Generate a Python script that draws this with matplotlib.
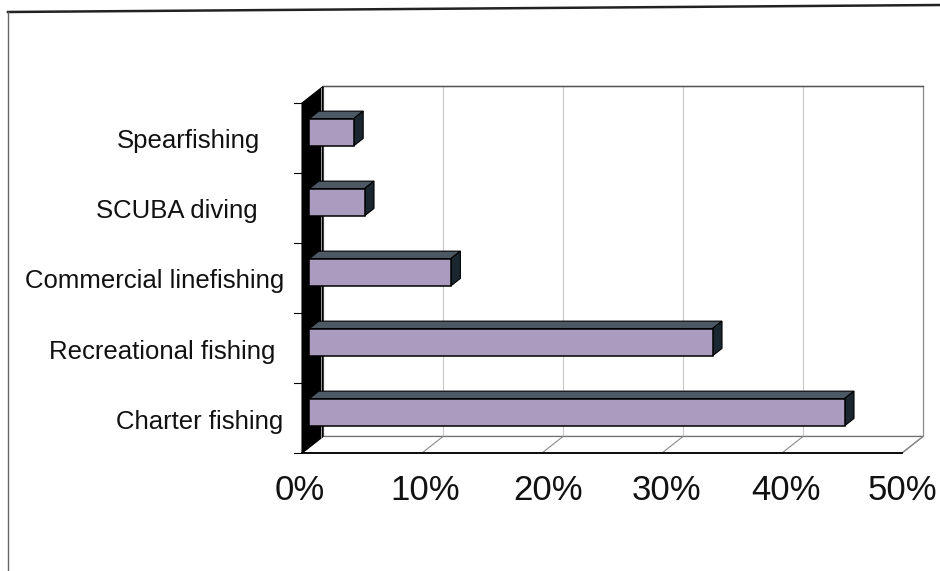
import numpy as np
import matplotlib
matplotlib.use('Agg')
import matplotlib.pyplot as plt
from matplotlib.patches import Polygon

# data (bottom to top)
categories = ['Charter fishing', 'Recreational fishing', 'Commercial linefishing',
              'SCUBA diving', 'Spearfishing']
values = [44.6, 33.6, 11.8, 4.6, 3.7]
xticks = [0, 10, 20, 30, 40, 50]
xticklabels = ['0%', '10%', '20%', '30%', '40%', '50%']

# layout: right edge of each category label (in % units, front plane)
label_right = [-1.6, -2.2, -1.45, -3.7, -3.5]
# layout: small shifts of the % labels (in % units)
tick_shift = [-0.2, 0.25, 0.5, 0.4, 0.3, 0.0]

# 3D look: depth offsets for z = 1 (back plane)
DX = 1.75    # in %
DY = 0.236   # in category units
Z0, Z1 = 0.35, 0.80   # bar depth range
BH = 0.39             # bar height

front_col = '#a99cbf'
top_col = '#4d5865'
side_col = '#1b2730'


def proj(x, y, z):
    return (x + DX * z, y + DY * z)


def face(ax, pts, fc, ec='black', lw=0.8, zorder=3):
    ax.add_patch(Polygon([proj(*p) for p in pts], closed=True, facecolor=fc,
                         edgecolor=ec, linewidth=lw, zorder=zorder))


fig = plt.figure(figsize=(9.4, 5.71), dpi=100)
ax = fig.add_axes([0, 0, 1, 1])
ax.set_xlim(-302 / 12, (940 - 302) / 12)
ax.set_ylim((453 - 571) / 70, 453 / 70)
ax.axis('off')

n = len(categories)
xmax = xticks[-1]

# back wall
face(ax, [(0, 0, 1), (xmax, 0, 1), (xmax, n, 1), (0, n, 1)], 'white',
     ec='#8a8a8a', lw=0.9, zorder=1)
for t in xticks[1:-1]:
    ax.plot(*zip(proj(t, 0, 1), proj(t, n, 1)), color='#c8c8c8', lw=0.8, zorder=1)
ax.plot(*zip(proj(0, n, 1), proj(xmax, n, 1)), color='#555555', lw=1.0, zorder=1)

# floor
face(ax, [(0, 0, 0), (xmax, 0, 0), (xmax, 0, 1), (0, 0, 1)], 'white',
     ec='#707070', lw=0.9, zorder=1)
for t in xticks[1:]:
    ax.plot(*zip(proj(t, 0, 0), proj(t, 0, 1)), color='#8a8a8a', lw=0.8, zorder=1)
ax.plot(*zip(proj(0, 0, 0), proj(xmax, 0, 0)), color='black', lw=1.3, zorder=1)

# left side wall (black)
face(ax, [(0, 0, 0), (0, 0, 1), (0, n, 1), (0, n, 0)], 'black', lw=0.8, zorder=2)
ax.plot(*zip(proj(-0.05, 0, 0.93), proj(-0.05, n, 0.93)), color='#9a9a9a', lw=0.7, zorder=2)

# category ticks on the front edge
for k in range(n + 1):
    x0, y0 = proj(0, k, 0)
    ax.plot([x0 - 0.65, x0], [y0, y0], color='black', lw=0.8, zorder=2)

# bars
for i, v in enumerate(values):
    y0 = i + 0.5 - BH / 2
    y1 = i + 0.5 + BH / 2
    face(ax, [(0, y1, Z0), (v, y1, Z0), (v, y1, Z1), (0, y1, Z1)], top_col)
    face(ax, [(v, y0, Z0), (v, y1, Z0), (v, y1, Z1), (v, y0, Z1)], side_col)
    face(ax, [(0, y0, Z0), (v, y0, Z0), (v, y1, Z0), (0, y1, Z0)], front_col, lw=1.1)

# category labels
for i, (c, xr) in enumerate(zip(categories, label_right)):
    ax.text(xr, i + 0.45, c, ha='right', va='center', fontsize=18.5,
            family='Liberation Sans', color='#111111')

# x tick labels
for t, lab, s in zip(xticks, xticklabels, tick_shift):
    ax.text(t + s, -0.53, lab, ha='center', va='center',
            fontsize=25, family='Liberation Sans', color='#111111')

# outer frame of the scanned chart
fig.add_artist(plt.Line2D([8 / 940, 1.0], [1 - 12 / 571, 1 - 5 / 571], color='#222222',
                          lw=1.8, transform=fig.transFigure))
fig.add_artist(plt.Line2D([8 / 940, 8 / 940], [1 - 12 / 571, 0], color='#666666',
                          lw=1.0, transform=fig.transFigure))

fig.savefig('out.png', dpi=100, facecolor='white')
